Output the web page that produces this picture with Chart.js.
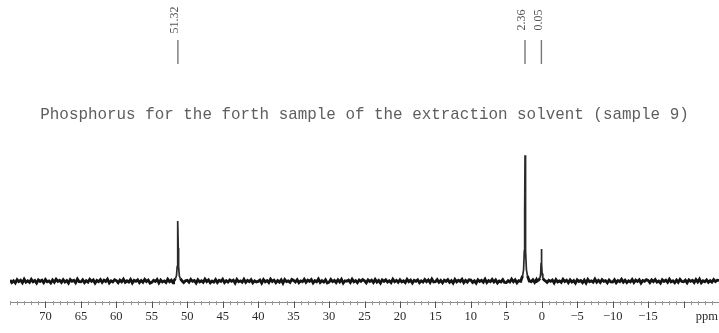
<!DOCTYPE html>
<html>
<head>
<meta charset="utf-8">
<script src="https://cdn.jsdelivr.net/npm/chart.js@4.4.1/dist/chart.umd.min.js"></script>
<style>
  html, body { margin: 0; padding: 0; background: #fff; }
  #wrap { width: 719px; height: 333px; }
</style>
</head>
<body>
<div id="wrap"><canvas id="spec" width="719" height="333"></canvas></div>
<script>
// 31P spectrum, chemical shift axis in ppm (reversed, high field on the right)
const shiftMin = -25;
const shiftMax = 75;

// Labelled peak positions (ppm) and their relative heights
const peakShifts  = [51.32, 2.36, 0.05];
const peakHeights = [47.7, 100, 25.4];

// Line shape around each peak: offsets from the centre (ppm) and fraction of peak height
const shapeOffsets   = [-0.60, -0.35, -0.20, -0.10, -0.05, 0, 0.05, 0.10, 0.20, 0.35, 0.60];
const shapeFractions = [0.00, 0.04, 0.09, 0.24, 0.55, 1, 0.55, 0.24, 0.09, 0.04, 0.00];

// Baseline noise, one value every 0.25 ppm from 75 down to -25
const baselineStep = 0.25;
const baselineNoise = [
  0.9,-1.1,0.3,-1.5,1.2,-0.4,0.7,-1.3,1.6,-0.8,0.2,-1.0,1.4,-0.6,0.5,-1.6,1.0,-0.2,0.8,-1.2,
  1.3,-0.5,0.1,-1.4,0.9,-0.9,1.5,-0.3,0.6,-1.1,1.1,-0.7,0.4,-1.5,1.2,-0.1,0.7,-1.3,1.6,-0.4,
  -0.6,1.0,-1.2,0.3,-0.8,1.4,-0.2,0.9,-1.6,0.5,-0.4,1.2,-1.0,0.7,-0.3,1.5,-1.4,0.2,-0.7,1.1,
  0.4,-1.3,0.8,-0.5,1.6,-1.0,0.2,-0.7,1.3,-1.5,0.6,-0.1,1.0,-1.2,0.5,-0.9,1.4,-0.3,0.8,-1.6,
  -1.0,0.6,-0.3,1.3,-1.4,0.9,-0.6,0.2,-1.1,1.5,-0.5,0.8,-1.3,0.4,-0.2,1.1,-0.8,1.6,-1.2,0.3,
  0.7,-0.9,1.4,-0.2,0.5,-1.5,1.1,-0.6,0.3,-1.0,1.6,-0.4,0.9,-1.3,0.1,-0.8,1.2,-1.1,0.6,-0.3,
  1.5,-1.2,0.4,-0.7,1.0,-0.1,0.8,-1.6,1.3,-0.5,0.2,-0.9,1.4,-1.0,0.6,-0.4,1.1,-1.4,0.3,-0.6,
  -0.2,0.9,-1.5,1.2,-0.6,0.4,-1.1,1.6,-0.3,0.7,-1.3,0.5,-0.8,1.0,-1.6,1.3,-0.4,0.2,-1.0,1.4,
  0.5,-0.7,1.1,-1.3,0.2,-0.5,1.5,-0.9,0.8,-0.2,1.2,-1.4,0.4,-0.6,1.6,-1.1,0.3,-0.8,1.0,-1.5,
  -0.9,1.3,-0.4,0.6,-1.2,1.0,-0.7,1.4,-1.5,0.3,-0.1,0.8,-1.0,1.5,-0.6,0.4,-1.3,0.9,-0.2,1.2,
  0.2,-1.4,1.0,-0.3,0.7,-1.1,1.3,-0.8,0.5,-1.6,0.9,-0.2,1.1,-0.7,0.3,-1.2,1.5,-0.5,0.6,-0.9,
  1.1,-0.6,0.3,-1.2,1.4,-0.4,0.8,-1.5,0.6,-0.1,1.0,-1.3,0.2,-0.8,1.2,-0.5,0.9,-1.1,1.6,-0.7,
  -0.4,1.2,-0.9,0.5,-1.3,0.8,-0.2,1.1,-1.0,0.4,-1.6,1.3,-0.6,0.7,-0.3,1.4,-1.2,0.6,-0.8,1.0,
  0.8,-1.0,0.2,-1.6,1.1,-0.3,0.6,-0.9,1.5,-1.2,0.4,-0.5,1.3,-0.7,0.9,-1.4,0.1,-0.6,1.2,-1.1,
  -1.2,0.4,-0.7,1.6,-0.5,1.0,-1.4,0.3,-0.2,1.2,-0.9,0.7,-1.5,0.5,-0.4,1.1,-1.0,1.3,-0.3,0.6,
  0.3,-0.8,1.5,-1.1,0.6,-0.2,0.9,-1.4,1.2,-0.6,0.1,-1.0,1.4,-0.4,0.7,-1.3,1.0,-0.7,0.4,-1.6,
  1.0,-0.3,0.5,-1.2,0.8,-1.5,1.3,-0.5,0.2,-0.9,1.6,-0.8,0.6,-1.1,1.1,-0.2,0.4,-1.4,0.9,-0.6,
  -0.7,1.1,-1.3,0.4,-0.4,1.5,-0.9,0.7,-1.2,0.2,-0.6,1.3,-1.1,0.8,-0.3,1.0,-1.6,0.5,-0.1,1.2,
  0.6,-1.2,0.9,-0.4,1.3,-0.8,0.1,-1.5,1.1,-0.3,0.7,-1.0,1.5,-0.6,0.2,-1.3,0.8,-0.9,1.4,-0.2,
  -0.5,0.8,-1.4,1.0,-0.2,0.6,-1.1,1.2,-0.7,1.6,-1.3,0.3,-0.5,0.9,-1.0,0.4,-0.8,1.3,-0.4,0.7,
  0.5
];

// Axis tick labels
const majorTicks = [70, 65, 60, 55, 50, 45, 40, 35, 30, 25, 20, 15, 10, 5, 0, -5, -10, -15, -20];
const labelledTicks = [70, 65, 60, 55, 50, 45, 40, 35, 30, 25, 20, 15, 10, 5, 0, -5, -10, -15];
const unitLabel = 'ppm';
const unitLabelAt = -23.3;

const titleText = 'Phosphorus for the forth sample of the extraction solvent (sample 9)';

// Build the spectrum trace: baseline noise outside the peak windows, then the peak shapes
const halfWidth = shapeOffsets[shapeOffsets.length - 1];
const points = [];
baselineNoise.forEach((v, i) => {
  const x = shiftMax - i * baselineStep;
  const inPeak = peakShifts.some(p => Math.abs(x - p) <= halfWidth);
  if (!inPeak) points.push({ x: x, y: v });
});
peakShifts.forEach((p, k) => {
  shapeOffsets.forEach((o, j) => {
    points.push({ x: p + o, y: peakHeights[k] * shapeFractions[j] });
  });
});
points.sort((a, b) => b.x - a.x);

// Ruler with minor/major ticks and serif labels under the plot
const rulerPlugin = {
  id: 'ruler',
  afterDraw(chart) {
    const { ctx, chartArea } = chart;
    const xs = chart.scales.x;
    const y0 = chartArea.bottom + 2;
    ctx.save();
    ctx.strokeStyle = '#8a8a8a';
    ctx.lineWidth = 1;
    ctx.beginPath();
    ctx.moveTo(chartArea.left, y0 + 0.5);
    ctx.lineTo(chartArea.right, y0 + 0.5);
    ctx.stroke();
    // minor ticks every 1 ppm
    ctx.strokeStyle = '#9a9a9a';
    ctx.beginPath();
    for (let v = Math.ceil(shiftMin); v <= shiftMax; v++) {
      const px = Math.round(xs.getPixelForValue(v)) + 0.5;
      ctx.moveTo(px, y0 - 1);
      ctx.lineTo(px, y0 + 3);
    }
    ctx.stroke();
    // major ticks
    ctx.strokeStyle = '#555';
    ctx.beginPath();
    majorTicks.forEach(v => {
      const px = Math.round(xs.getPixelForValue(v)) + 0.5;
      ctx.moveTo(px, y0);
      ctx.lineTo(px, y0 + 6);
    });
    ctx.stroke();
    ctx.fillStyle = '#2a2a2a';
    ctx.font = '12.5px "Liberation Serif", "Times New Roman", serif';
    ctx.textAlign = 'center';
    ctx.textBaseline = 'middle';
    labelledTicks.forEach(v => {
      const txt = v < 0 ? '\u2212' + Math.abs(v) : String(v);
      ctx.fillText(txt, xs.getPixelForValue(v), y0 + 15);
    });
    ctx.fillText(unitLabel, xs.getPixelForValue(unitLabelAt), y0 + 15);
    ctx.restore();
  }
};

// Peak-pick labels along the top edge, each with a short marker line
const peakLabelPlugin = {
  id: 'peakLabels',
  afterDraw(chart) {
    const { ctx } = chart;
    const xs = chart.scales.x;
    ctx.save();
    peakShifts.forEach(p => {
      const px = xs.getPixelForValue(p);
      ctx.strokeStyle = '#777';
      ctx.lineWidth = 1.4;
      ctx.beginPath();
      ctx.moveTo(px, 40);
      ctx.lineTo(px, 64);
      ctx.stroke();
      ctx.save();
      ctx.translate(px - 3, 20);
      ctx.rotate(-Math.PI / 2);
      ctx.fillStyle = '#555';
      ctx.font = '12px "Liberation Serif", "Times New Roman", serif';
      ctx.textAlign = 'center';
      ctx.textBaseline = 'middle';
      ctx.fillText(p.toFixed(2), 0, 0);
      ctx.restore();
    });
    ctx.restore();
  }
};

new Chart(document.getElementById('spec'), {
  type: 'line',
  data: {
    datasets: [{
      data: points,
      borderColor: '#141414',
      borderWidth: 2.8,
      pointRadius: 0,
      tension: 0,
      fill: false,
      // the tall peak segments are drawn finer than the noisy baseline
      segment: {
        borderWidth: c => Math.max(c.p0.parsed.y, c.p1.parsed.y) > 4 ? 1.7 : undefined,
        borderColor: c => Math.max(c.p0.parsed.y, c.p1.parsed.y) > 4 ? '#2a2a2a' : undefined
      }
    }]
  },
  options: {
    responsive: false,
    animation: false,
    layout: { padding: { left: 10, right: 0, top: 0, bottom: 33 } },
    scales: {
      x: { type: 'linear', min: shiftMin, max: shiftMax, reverse: true, display: false },
      y: { min: -15, max: 120, display: false }
    },
    plugins: {
      legend: { display: false },
      tooltip: { enabled: false },
      title: {
        display: true,
        text: titleText,
        color: '#5e5e5e',
        font: { family: '"Liberation Mono", "Courier New", monospace', size: 15.9, weight: 'normal', lineHeight: 1.2 },
        padding: { top: 105.5, bottom: 5.4 }
      }
    }
  },
  plugins: [rulerPlugin, peakLabelPlugin]
});
</script>
</body>
</html>
